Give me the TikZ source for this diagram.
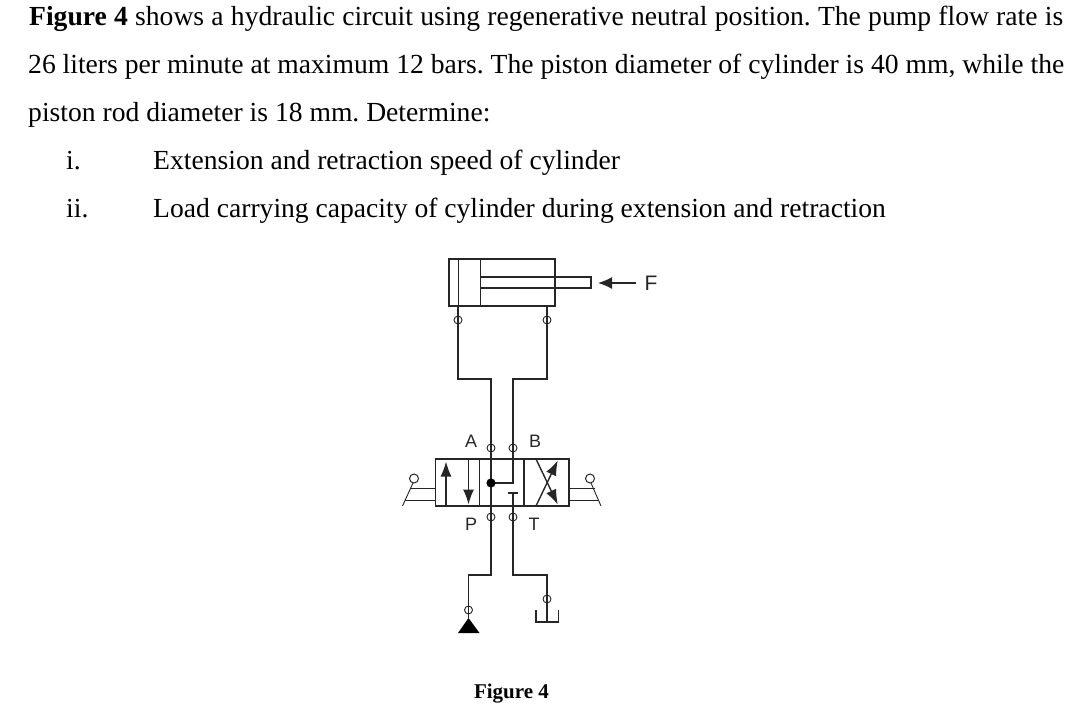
\documentclass[tikz,border=0pt]{standalone}
\usepackage{fontspec}
\setmainfont{Liberation Serif}
\setsansfont{Liberation Sans}
\usetikzlibrary{arrows.meta}
\definecolor{ink}{gray}{0.15}
\tikzset{
	line/.style={draw=ink, line width=1.4pt},
	thinline/.style={draw=ink, line width=0.9pt},
	port/.style={circle, draw=ink, line width=0.9pt, inner sep=0pt, minimum size=8pt},
	knob/.style={circle, draw=ink, line width=1pt, inner sep=0pt, minimum size=9pt},
	body/.style={anchor=base west, inner sep=0pt, font=\fontsize{27.6}{32}\selectfont},
	tag/.style={inner sep=0pt, text=ink, font=\sffamily\fontsize{18}{20}\selectfont},
	spool/.style={line, arrows={-{Latex[length=15pt,width=11pt]}}, shorten >=0.5pt}
}
\begin{document}
\frenchspacing
\begin{tikzpicture}[x=1pt,y=-1pt]
	\useasboundingbox (0,0) rectangle (1080,714);
	\node [body] (line1) at (29,26) {\makebox[1034pt][s]{\textbf{Figure 4} shows a hydraulic circuit using regenerative neutral position. The pump flow rate is}};
	\node [body] (line2) at (28,74) {\makebox[1036pt][s]{26 liters per minute at maximum 12 bars. The piston diameter of cylinder is 40 mm, while the}};
	\node [body] (line3) at (28,122) {piston rod diameter is 18 mm. Determine:};
	\node [body] (num1) at (66,170) {i.};
	\node [body] (item1) at (153,170) {Extension and retraction speed of cylinder};
	\node [body] (num2) at (66,218) {ii.};
	\node [body] (item2) at (153,218) {Load carrying capacity of cylinder during extension and retraction};

	\draw [line] (449,259) rectangle (555,306);
	\draw [thinline] (458,259) -- (458,306);
	\draw [thinline] (480,259) -- (480,306);
	\draw [line] (480,277) -- (591,277) -- (591,288) -- (480,288);
	\node [tag, font=\sffamily\fontsize{21}{23}\selectfont] (force) at (651,283) {F};
	\draw [line, arrows={-{Latex[length=14pt,width=12pt]}}] (636,283) -- (598,283);

	\node [port] (capport) at (458,320) {};
	\node [port] (rodport) at (547,320) {};
	\node [port] (portA) at (491,448) {};
	\node [port] (portB) at (513,448) {};
	\node [port] (portP) at (491,517) {};
	\node [port] (portT) at (513,517) {};
	\node [port] (pumpport) at (468.5,610) {};
	\node [port] (tankport) at (547,599) {};
	\node [tag] (labelA) at (471,441) {A};
	\node [tag] (labelB) at (535,441) {B};
	\node [tag] (labelP) at (471,524) {P};
	\node [tag] (labelT) at (534,524) {T};

	\coordinate (capjoint) at (491,379);
	\coordinate (rodjoint) at (513,379);
	\coordinate (pumpjoint) at (491,575);
	\coordinate (tankjoint) at (513,575);
	\draw [line] (458,306) -- (capport.center) |- (capjoint) -- (portA.center) -- (491,459);
	\draw [line] (547,306) -- (rodport.center) |- (rodjoint) -- (portB.center) -- (513,459);
	\draw [line] (491,506) -- (portP.center) -- (pumpjoint) -| (pumpport.center) -- (468.5,618);
	\draw [line] (513,506) -- (portT.center) -- (tankjoint) -| (tankport.center) -- (547,622);

	\draw [line] (435.5,459) rectangle (569,506);
	\draw [line] (479.5,459) -- (479.5,506);
	\draw [line] (524,459) -- (524,506);
	\draw [spool] (446,506) -- (446,461);
	\draw [spool] (468.5,459) -- (468.5,505);
	\draw [line] (491,459) -- (491,506);
	\draw [line] (513,459) -- (513,483) -- (491,483);
	\draw [fill=black, draw=none] (491,483) circle (4.6);
	\draw [line] (513,506) -- (513,493);
	\draw [line] (508,493) -- (518,493);
	\draw [spool] (536,506) -- (558,460);
	\draw [spool] (536,459) -- (558,505);

	\draw [thinline] (435.5,488) -- (410,488);
	\draw [thinline] (435.5,500) -- (405,500);
	\draw [thinline] (402.5,506) -- (413,483);
	\node [knob] (leftknob) at (414,478.5) {};
	\draw [thinline] (569,488) -- (595,488);
	\draw [thinline] (569,500) -- (598,500);
	\draw [thinline] (601,506) -- (591,483);
	\node [knob] (rightknob) at (590,478.5) {};

	\draw [fill=black, draw=none] (468.5,618) -- (479.5,633) -- (458,633) -- cycle;
	\draw [line] (536,610) -- (536,622) -- (558.5,622) -- (558.5,610);

	\node [body, anchor=base, font=\bfseries\fontsize{21}{24}\selectfont] (caption) at (511.5,698) {Figure 4};
\end{tikzpicture}
\end{document}
